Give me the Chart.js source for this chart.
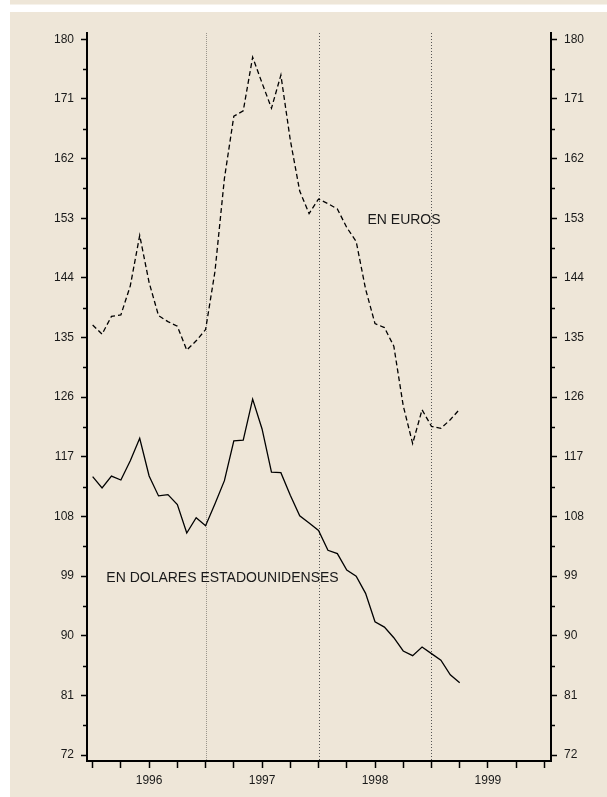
<!DOCTYPE html>
<html>
<head>
<meta charset="utf-8">
<script src="https://cdn.jsdelivr.net/npm/chart.js@4/dist/chart.umd.min.js"></script>
<style>
  html, body { margin: 0; padding: 0; background: #ffffff; }
  #wrap { position: relative; width: 607px; height: 797px; }
</style>
</head>
<body>
<div id="wrap"><canvas id="chart" width="607" height="797"></canvas></div>
<script>
// Indice mensual, enero 1996 - abril 1999

const yearLabels = ["1996", "1997", "1998", "1999"];
const yearLabelMonths = [6, 18, 30, 42];
const quarterTicks = [0, 3, 6, 9, 12, 15, 18, 21, 24, 27, 30, 33, 36, 39, 42, 45, 48];
const yearLines = [12, 24, 36];
const yTicks = [72, 81, 90, 99, 108, 117, 126, 135, 144, 153, 162, 171, 180];
const yMinorTicks = [76.5, 85.5, 94.5, 103.5, 112.5, 121.5, 130.5, 139.5, 148.5, 157.5, 166.5, 175.5];

const euroValues = [
  136.9, 135.5, 138.2, 138.4, 142.8, 150.4, 143.3, 138.3, 137.4, 136.7, 133.1, 134.5,
  136.2, 145.0, 159.0, 168.4, 169.2, 177.3, 173.4, 169.6, 174.6, 164.8, 157.1, 153.7,
  155.9, 155.2, 154.4, 151.6, 149.5, 142.3, 137.1, 136.5, 133.7, 124.7, 119.0, 124.1,
  121.6, 121.3, 122.6, 124.2
];

const dollarValues = [
  114.0, 112.3, 114.1, 113.5, 116.4, 119.8, 114.1, 111.1, 111.3, 109.8, 105.5, 107.8,
  106.6, 109.9, 113.4, 119.4, 119.5, 125.7, 121.2, 114.7, 114.6, 111.2, 108.1, 107.0,
  105.9, 102.9, 102.4, 99.9, 99.0, 96.4, 92.1, 91.3, 89.7, 87.7, 87.0, 88.3,
  87.3, 86.3, 84.1, 82.9
];

const seriesLabels = [
  { text: "EN EUROS", month: 29.2, value: 152.75 },
  { text: "EN DOLARES ESTADOUNIDENSES", month: 1.45, value: 98.7 },
];

const FONT = "'Liberation Sans', Arial, Helvetica, sans-serif";
const BEIGE = "#eee6d8";

// fondo: banda superior fina y panel principal
const backgroundPlugin = {
  id: "background",
  beforeDraw(chart) {
    const ctx = chart.ctx;
    ctx.save();
    ctx.fillStyle = "#ffffff";
    ctx.fillRect(0, 0, chart.width, chart.height);
    ctx.fillStyle = BEIGE;
    ctx.fillRect(10, 0, chart.width - 10, 4.5);
    ctx.fillRect(10, 12, chart.width - 10, chart.height - 12);
    ctx.restore();
  },
};

// lineas punteadas de cambio de año y marcas menores del eje y
const decorPlugin = {
  id: "decor",
  beforeDatasetsDraw(chart) {
    const ctx = chart.ctx;
    const x = chart.scales.x;
    const area = chart.chartArea;
    ctx.save();
    ctx.lineWidth = 1;
    yearLines.forEach((m, i) => {
      const px = Math.round(x.getPixelForValue(m)) + 0.5;
      ctx.strokeStyle = i === 0 ? "#9a958c" : "#555555";
      ctx.setLineDash(i === 0 ? [1, 1] : [1, 2]);
      ctx.beginPath();
      ctx.moveTo(px, area.top);
      ctx.lineTo(px, area.bottom);
      ctx.stroke();
    });
    ctx.setLineDash([]);
    ctx.strokeStyle = "#000000";
    ctx.lineWidth = 1.5;
    ["y", "y2"].forEach((id) => {
      const s = chart.scales[id];
      yMinorTicks.forEach((v) => {
        const py = Math.round(s.getPixelForValue(v)) + 0.5;
        ctx.beginPath();
        if (id === "y") {
          ctx.moveTo(area.left - 4, py);
          ctx.lineTo(area.left, py);
        } else {
          ctx.moveTo(area.right, py);
          ctx.lineTo(area.right + 4, py);
        }
        ctx.stroke();
      });
    });
    ctx.restore();
  },
  afterDatasetsDraw(chart) {
    const ctx = chart.ctx;
    const x = chart.scales.x;
    const y = chart.scales.y;
    ctx.save();
    ctx.fillStyle = "#1a1a1a";
    ctx.font = "14px " + FONT;
    ctx.textAlign = "left";
    ctx.textBaseline = "middle";
    seriesLabels.forEach((l) => {
      ctx.fillText(l.text, x.getPixelForValue(l.month), y.getPixelForValue(l.value));
    });
    ctx.restore();
  },
};

function yAxis(position, width) {
  return {
    type: "linear",
    position: position,
    min: 71.1,
    max: 180.95,
    afterBuildTicks: (scale) => {
      scale.ticks = yTicks.map((v) => ({ value: v }));
    },
    afterFit: (scale) => {
      scale.width = width;
    },
    ticks: {
      color: "#1a1a1a",
      font: { family: FONT, size: 12 },
      padding: 7,
      callback: (v) => String(v),
    },
    grid: {
      drawOnChartArea: false,
      drawTicks: true,
      tickLength: 6,
      tickColor: "#000000",
      tickWidth: 1.5,
    },
    border: { display: true, color: "#000000", width: 2 },
  };
}

const ctx = document.getElementById("chart").getContext("2d");
const chart = new Chart(ctx, {
  type: "line",
  data: {
    datasets: [
      {
        label: "En euros",
        data: euroValues.map((v, i) => ({ x: i, y: v })),
        borderColor: "#000000",
        borderWidth: 1.3,
        borderDash: [5, 3],
        pointRadius: 0,
        tension: 0,
        yAxisID: "y",
      },
      {
        label: "En dolares estadounidenses",
        data: dollarValues.map((v, i) => ({ x: i, y: v })),
        borderColor: "#000000",
        borderWidth: 1.3,
        pointRadius: 0,
        tension: 0,
        yAxisID: "y",
      },
    ],
  },
  options: {
    responsive: false,
    animation: false,
    layout: { padding: { top: 33, left: 0, right: 0, bottom: 0 } },
    plugins: {
      legend: { display: false },
      tooltip: { enabled: false },
    },
    scales: {
      x: {
        type: "linear",
        min: -0.6,
        max: 48.7,
        afterBuildTicks: (scale) => {
          scale.ticks = quarterTicks.map((v) => ({ value: v }));
        },
        afterFit: (scale) => {
          scale.height = 36;
        },
        ticks: {
          autoSkip: false,
          maxRotation: 0,
          color: "#1a1a1a",
          font: { family: FONT, size: 12 },
          padding: 5,
          callback: (v) => {
            const i = yearLabelMonths.indexOf(v);
            return i >= 0 ? yearLabels[i] : "";
          },
        },
        grid: {
          drawOnChartArea: false,
          drawTicks: true,
          tickLength: 7,
          tickColor: "#000000",
          tickWidth: 1.5,
        },
        border: { display: true, color: "#000000", width: 2 },
      },
      y: yAxis("left", 87),
      y2: yAxis("right", 56),
    },
  },
  plugins: [backgroundPlugin, decorPlugin],
});
</script>
</body>
</html>
